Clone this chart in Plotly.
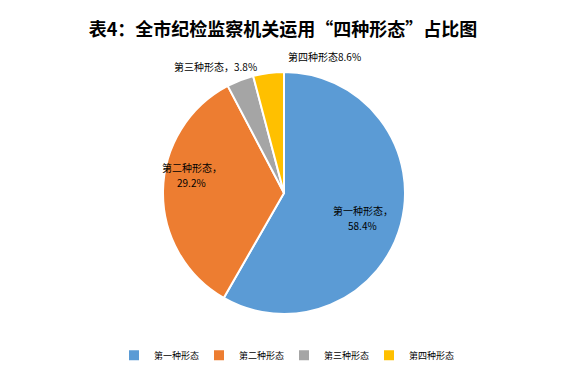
import plotly.graph_objects as go

categories = ["第一种形态", "第二种形态", "第三种形态", "第四种形态"]
# slice sizes as drawn in the picture
values = [58.3, 34.0, 3.6, 4.1]
# data labels as printed on the chart
label_text = ["第一种形态，<br>58.4%", "第二种形态，<br>29.2%", "第三种形态，3.8%", "第四种形态8.6%"]
colors = ["#5B9BD5", "#ED7D31", "#A5A5A5", "#FFC000"]
# label anchor positions (paper coordinates)
label_x = [0.640, 0.336, 0.378, 0.571]
label_y = [0.397, 0.574, 1.021, 1.062]

fig = go.Figure(go.Pie(
    labels=categories,
    values=values,
    textinfo="none",
    sort=False,
    direction="clockwise",
    rotation=0,
    marker=dict(colors=colors, line=dict(color="white", width=2)),
    hoverinfo="label+value",
))

line_gap = 15  # px between label lines
for t, x, y in zip(label_text, label_x, label_y):
    lines = t.split("<br>")
    n = len(lines)
    for i, ln in enumerate(lines):
        shift = ((n - 1) / 2 - i) * line_gap
        fig.add_annotation(text=ln, x=x, y=y, xref="paper", yref="paper",
                           yshift=shift, showarrow=False,
                           xanchor="center", yanchor="middle",
                           font=dict(family="Noto Sans CJK SC", size=10, color="black"))

fig.update_layout(
    width=566, height=379,
    margin=dict(l=2, r=0, t=72, b=65),
    paper_bgcolor="white",
    plot_bgcolor="white",
    title=dict(text="<b>表4：全市纪检监察机关运用“四种形态”占比图</b>",
               x=0.5, xanchor="center", y=0.921, yanchor="middle",
               font=dict(family="Noto Sans CJK SC", size=18, color="black")),
    legend=dict(orientation="h", x=0.5, xanchor="center", y=-0.17, yanchor="middle",
                font=dict(family="Noto Sans CJK SC", size=9, color="black"),
                itemwidth=30, entrywidth=40, entrywidthmode="pixels"),
    showlegend=True,
)

fig.write_html("out.html")
